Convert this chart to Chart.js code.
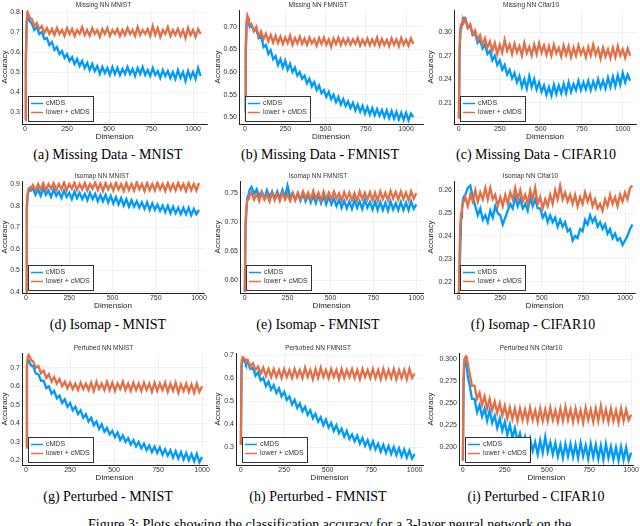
<!DOCTYPE html>
<html><head><meta charset="utf-8">
<script src="https://cdn.jsdelivr.net/npm/chart.js@4/dist/chart.umd.min.js"></script>
<style>
html,body{margin:0;padding:0;background:#fff;width:640px;height:526px;overflow:hidden;position:relative}
.pnl{position:absolute}
.cap{position:absolute;font-family:"Liberation Serif","Times New Roman",serif;font-size:14px;line-height:16px;color:#000;white-space:nowrap;transform:translateX(-50%)}
.fig{position:absolute;font-family:"Liberation Serif","Times New Roman",serif;font-size:14px;line-height:16px;color:#000;white-space:nowrap}
</style></head><body>
<script>
// ---------- data ----------
const dims1050 = [1,5,10,15,20,25,30,40,55,70,85,100,115,130,145,160,175,190,205,220,235,250,265,280,295,310,325,340,355,370,385,400,415,430,445,460,475,490,505,520,535,550,565,580,595,610,625,640,655,670,685,700,715,730,745,760,775,790,805,820,835,850,865,880,895,910,925,940,955,970,985,1000,1015,1030,1045];
const dims1000 = [1,5,10,15,20,25,30,40,55,70,85,100,115,130,145,160,175,190,205,220,235,250,265,280,295,310,325,340,355,370,385,400,415,430,445,460,475,490,505,520,535,550,565,580,595,610,625,640,655,670,685,700,715,730,745,760,775,790,805,820,835,850,865,880,895,910,925,940,955,970,985,1000];

const seriesNames = ['cMDS', 'lower + cMDS'];
const xTickLabels = ['0','250','500','750','1000'];

// (a) Missing Data - MNIST
const missMnistCmds = [0.26,0.55,0.74,0.78,0.77,0.76,0.75,
 0.745,0.71,0.725,0.69,0.70,0.665,0.67,0.635,0.65,0.61,
 0.625,0.59,0.605,0.57,0.59,0.555,0.575,0.54,0.565,0.53,
 0.555,0.52,0.545,0.51,0.54,0.505,0.53,0.49,0.525,0.495,
 0.52,0.485,0.525,0.49,0.52,0.485,0.515,0.49,0.525,0.49,
 0.515,0.48,0.52,0.49,0.525,0.485,0.51,0.48,0.52,0.485,
 0.505,0.47,0.51,0.48,0.505,0.47,0.50,0.465,0.51,0.47,
 0.50,0.455,0.505,0.47,0.50,0.465,0.52,0.48];
const missMnistLower = [0.26,0.58,0.76,0.80,0.79,0.78,0.77,
 0.765,0.73,0.745,0.715,0.73,0.695,0.72,0.69,0.715,0.685,
 0.72,0.69,0.71,0.68,0.72,0.69,0.715,0.68,0.71,0.69,
 0.725,0.685,0.71,0.68,0.72,0.69,0.71,0.675,0.715,0.69,
 0.72,0.68,0.71,0.69,0.715,0.68,0.71,0.685,0.72,0.69,
 0.71,0.68,0.725,0.685,0.71,0.69,0.715,0.68,0.73,0.685,
 0.72,0.675,0.71,0.69,0.725,0.68,0.71,0.685,0.715,0.68,
 0.71,0.67,0.72,0.685,0.71,0.675,0.715,0.69];
const yTicksA = ['0.3','0.4','0.5','0.6','0.7','0.8'];

// (b) Missing Data - FMNIST
const missFmnistCmds = [0.51,0.64,0.705,0.715,0.71,0.705,0.70,
 0.705,0.69,0.695,0.675,0.68,0.655,0.66,0.64,0.648,0.628,
 0.635,0.615,0.628,0.61,0.625,0.605,0.618,0.60,0.61,0.592,
 0.60,0.585,0.592,0.575,0.585,0.568,0.578,0.56,0.57,0.553,
 0.56,0.545,0.556,0.54,0.55,0.533,0.545,0.528,0.54,0.525,
 0.535,0.52,0.532,0.515,0.528,0.512,0.525,0.508,0.522,0.506,
 0.52,0.504,0.518,0.503,0.516,0.50,0.515,0.498,0.514,0.497,
 0.512,0.495,0.51,0.494,0.51,0.493,0.508,0.50];
const missFmnistLower = [0.51,0.65,0.71,0.725,0.72,0.71,0.705,
 0.705,0.69,0.70,0.68,0.69,0.672,0.685,0.668,0.682,0.665,
 0.68,0.664,0.678,0.662,0.676,0.664,0.68,0.66,0.675,0.663,
 0.678,0.662,0.674,0.66,0.676,0.663,0.672,0.658,0.675,0.662,
 0.676,0.66,0.672,0.656,0.674,0.662,0.676,0.66,0.673,0.661,
 0.674,0.66,0.672,0.662,0.675,0.658,0.671,0.66,0.674,0.659,
 0.672,0.66,0.676,0.658,0.673,0.66,0.671,0.657,0.674,0.66,
 0.672,0.657,0.675,0.66,0.671,0.658,0.674,0.662];
const yTicksB = ['0.50','0.55','0.60','0.65','0.70'];

// (c) Missing Data - CIFAR10
const missCifarCmds = [0.19,0.27,0.30,0.305,0.31,0.315,0.318,
 0.318,0.305,0.308,0.296,0.298,0.286,0.29,0.279,0.284,0.272,
 0.276,0.264,0.27,0.258,0.264,0.252,0.258,0.246,0.252,0.241,
 0.248,0.236,0.244,0.23,0.24,0.228,0.244,0.23,0.24,0.227,
 0.236,0.224,0.232,0.22,0.23,0.219,0.233,0.221,0.232,0.222,
 0.234,0.222,0.236,0.224,0.234,0.226,0.238,0.226,0.236,0.227,
 0.238,0.226,0.237,0.228,0.24,0.229,0.238,0.228,0.242,0.23,
 0.243,0.231,0.245,0.233,0.248,0.236,0.246,0.238];
const missCifarLower = [0.19,0.28,0.305,0.31,0.312,0.315,0.312,
 0.316,0.305,0.31,0.297,0.302,0.29,0.296,0.284,0.292,0.28,
 0.288,0.276,0.286,0.272,0.284,0.274,0.29,0.276,0.284,0.272,
 0.285,0.274,0.282,0.27,0.286,0.273,0.281,0.27,0.284,0.272,
 0.286,0.274,0.283,0.271,0.282,0.27,0.284,0.273,0.28,0.269,
 0.283,0.271,0.282,0.268,0.28,0.27,0.283,0.272,0.279,0.268,
 0.281,0.27,0.284,0.271,0.279,0.266,0.28,0.269,0.278,0.267,
 0.28,0.268,0.282,0.27,0.278,0.267,0.279,0.27];
const yTicksC = ['0.21','0.24','0.27','0.30'];

// (d) Isomap - MNIST
const isoMnistCmds = [0.40,0.78,0.85,0.87,0.875,0.87,0.87,
 0.88,0.85,0.875,0.845,0.88,0.85,0.87,0.84,0.875,0.845,
 0.865,0.835,0.87,0.84,0.86,0.83,0.865,0.835,0.86,0.83,
 0.855,0.825,0.86,0.83,0.855,0.82,0.85,0.82,0.85,0.815,
 0.845,0.81,0.84,0.805,0.835,0.80,0.83,0.795,0.825,0.795,
 0.82,0.79,0.815,0.785,0.815,0.78,0.81,0.78,0.805,0.775,
 0.80,0.77,0.80,0.765,0.795,0.765,0.79,0.76,0.79,0.76,
 0.79,0.755,0.785,0.76,0.78];
const isoMnistLower = [0.40,0.80,0.86,0.88,0.88,0.885,0.88,
 0.895,0.87,0.90,0.875,0.905,0.87,0.90,0.878,0.905,0.872,
 0.90,0.875,0.908,0.87,0.90,0.878,0.906,0.872,0.90,0.875,
 0.905,0.87,0.90,0.878,0.908,0.872,0.902,0.868,0.905,0.875,
 0.90,0.87,0.906,0.875,0.90,0.868,0.905,0.872,0.90,0.87,
 0.908,0.875,0.90,0.868,0.905,0.872,0.90,0.87,0.906,0.874,
 0.90,0.868,0.905,0.872,0.90,0.87,0.906,0.875,0.90,0.868,
 0.905,0.872,0.90,0.87,0.904];
const yTicksD = ['0.4','0.5','0.6','0.7','0.8','0.9'];

// (e) Isomap - FMNIST
const isoFmnistCmds = [0.58,0.68,0.72,0.74,0.745,0.75,0.755,
 0.76,0.748,0.756,0.744,0.752,0.74,0.754,0.742,0.752,0.74,
 0.752,0.74,0.755,0.742,0.762,0.742,0.75,0.738,0.748,0.736,
 0.748,0.735,0.746,0.733,0.745,0.732,0.746,0.732,0.744,0.73,
 0.743,0.73,0.74,0.727,0.738,0.724,0.736,0.723,0.735,0.722,
 0.737,0.724,0.735,0.722,0.738,0.724,0.734,0.721,0.735,0.72,
 0.734,0.72,0.733,0.719,0.735,0.721,0.732,0.72,0.734,0.72,
 0.733,0.72,0.735,0.722,0.73];
const isoFmnistLower = [0.58,0.70,0.72,0.735,0.74,0.745,0.745,
 0.75,0.738,0.748,0.736,0.75,0.738,0.747,0.735,0.75,0.737,
 0.748,0.736,0.75,0.738,0.747,0.736,0.749,0.737,0.75,0.738,
 0.752,0.74,0.75,0.738,0.753,0.74,0.75,0.737,0.752,0.739,
 0.75,0.738,0.752,0.74,0.749,0.736,0.751,0.739,0.75,0.737,
 0.749,0.736,0.752,0.739,0.75,0.738,0.751,0.737,0.75,0.736,
 0.752,0.739,0.75,0.737,0.753,0.74,0.751,0.738,0.752,0.739,
 0.75,0.737,0.752,0.74,0.749];
const yTicksE = ['0.60','0.65','0.70','0.75'];

// (f) Isomap - CIFAR10
const isoCifarCmds = [0.225,0.222,0.235,0.248,0.252,0.255,0.257,
 0.258,0.261,0.262,0.257,0.253,0.249,0.252,0.247,0.249,0.246,
 0.251,0.248,0.253,0.25,0.249,0.245,0.248,0.251,0.254,0.252,
 0.257,0.253,0.256,0.252,0.254,0.251,0.257,0.253,0.256,0.252,
 0.252,0.248,0.25,0.246,0.249,0.246,0.248,0.244,0.247,0.244,
 0.246,0.242,0.243,0.238,0.24,0.239,0.243,0.242,0.247,0.245,
 0.249,0.246,0.248,0.244,0.246,0.243,0.245,0.241,0.243,0.239,
 0.241,0.238,0.239,0.236,0.238,0.24,0.243,0.245];
const isoCifarLower = [0.215,0.23,0.245,0.25,0.252,0.254,0.255,
 0.257,0.253,0.258,0.255,0.26,0.255,0.259,0.256,0.261,0.256,
 0.261,0.256,0.258,0.253,0.257,0.253,0.258,0.254,0.259,0.256,
 0.261,0.256,0.26,0.255,0.258,0.254,0.26,0.256,0.261,0.254,
 0.257,0.252,0.256,0.253,0.258,0.254,0.26,0.256,0.262,0.256,
 0.259,0.255,0.258,0.254,0.258,0.253,0.257,0.254,0.259,0.255,
 0.258,0.253,0.256,0.252,0.254,0.251,0.256,0.253,0.258,0.254,
 0.257,0.253,0.258,0.255,0.259,0.256,0.261,0.262];
const yTicksF = ['0.22','0.23','0.24','0.25','0.26'];

// (g) Perturbed - MNIST
const pertMnistCmds = [0.27,0.70,0.74,0.74,0.73,0.72,0.71,
 0.71,0.67,0.665,0.63,0.63,0.59,0.60,0.56,0.575,0.535,
 0.55,0.51,0.53,0.49,0.51,0.47,0.49,0.45,0.47,0.43,
 0.45,0.41,0.43,0.39,0.41,0.37,0.395,0.355,0.375,0.34,
 0.36,0.325,0.35,0.31,0.335,0.30,0.32,0.285,0.31,0.275,
 0.30,0.265,0.29,0.255,0.28,0.245,0.275,0.24,0.27,0.23,
 0.26,0.225,0.255,0.215,0.25,0.21,0.245,0.205,0.24,0.20,
 0.235,0.195,0.235,0.19,0.22];
const pertMnistLower = [0.27,0.72,0.76,0.77,0.76,0.75,0.74,
 0.735,0.70,0.71,0.67,0.685,0.645,0.665,0.625,0.65,0.615,
 0.64,0.60,0.625,0.59,0.62,0.585,0.615,0.58,0.62,0.585,
 0.615,0.58,0.62,0.575,0.625,0.585,0.615,0.58,0.625,0.58,
 0.62,0.575,0.615,0.585,0.625,0.58,0.615,0.575,0.62,0.58,
 0.615,0.575,0.62,0.58,0.615,0.57,0.62,0.575,0.615,0.58,
 0.62,0.57,0.615,0.575,0.62,0.565,0.61,0.575,0.615,0.57,
 0.61,0.565,0.615,0.57,0.60];
const yTicksG = ['0.2','0.3','0.4','0.5','0.6','0.7'];

// (h) Perturbed - FMNIST
const pertFmnistCmds = [0.31,0.65,0.68,0.685,0.68,0.67,0.66,
 0.67,0.64,0.645,0.61,0.625,0.59,0.60,0.565,0.585,0.55,
 0.57,0.535,0.555,0.52,0.54,0.505,0.52,0.485,0.505,0.47,
 0.49,0.455,0.475,0.44,0.46,0.425,0.445,0.41,0.43,0.395,
 0.42,0.385,0.405,0.37,0.395,0.36,0.38,0.345,0.37,0.335,
 0.355,0.325,0.35,0.315,0.34,0.305,0.33,0.295,0.325,0.29,
 0.315,0.28,0.31,0.275,0.305,0.27,0.30,0.265,0.295,0.26,
 0.29,0.255,0.285,0.25,0.27];
const pertFmnistLower = [0.31,0.67,0.69,0.69,0.685,0.68,0.675,
 0.68,0.65,0.665,0.635,0.65,0.62,0.645,0.61,0.64,0.605,
 0.64,0.605,0.635,0.60,0.64,0.605,0.635,0.60,0.64,0.605,
 0.635,0.60,0.645,0.605,0.635,0.595,0.64,0.60,0.645,0.605,
 0.635,0.60,0.64,0.605,0.635,0.595,0.64,0.60,0.635,0.605,
 0.64,0.60,0.635,0.595,0.64,0.605,0.635,0.60,0.64,0.60,
 0.635,0.595,0.64,0.60,0.635,0.60,0.64,0.595,0.635,0.60,
 0.635,0.595,0.64,0.60,0.62];
const yTicksH = ['0.3','0.4','0.5','0.6','0.7'];

// (i) Perturbed - CIFAR10
const pertCifarCmds = [0.185,0.27,0.295,0.297,0.295,0.29,0.28,
 0.272,0.255,0.255,0.24,0.248,0.235,0.244,0.23,0.242,0.228,
 0.236,0.222,0.233,0.219,0.229,0.214,0.226,0.211,0.222,0.207,
 0.216,0.202,0.212,0.198,0.21,0.196,0.206,0.192,0.208,0.194,
 0.212,0.195,0.206,0.192,0.205,0.19,0.203,0.188,0.204,0.19,
 0.204,0.189,0.203,0.188,0.205,0.19,0.202,0.187,0.204,0.189,
 0.203,0.187,0.202,0.186,0.204,0.188,0.201,0.186,0.20,0.185,
 0.201,0.186,0.20,0.185,0.194];
const pertCifarLower = [0.185,0.28,0.30,0.302,0.303,0.30,0.295,
 0.285,0.27,0.27,0.255,0.262,0.248,0.258,0.244,0.255,0.242,
 0.252,0.239,0.25,0.236,0.247,0.233,0.245,0.232,0.244,0.23,
 0.244,0.231,0.243,0.23,0.245,0.231,0.242,0.229,0.244,0.23,
 0.243,0.23,0.245,0.231,0.242,0.229,0.244,0.23,0.246,0.231,
 0.243,0.229,0.244,0.23,0.242,0.228,0.245,0.231,0.243,0.229,
 0.244,0.23,0.247,0.231,0.243,0.229,0.244,0.23,0.242,0.228,
 0.244,0.23,0.243,0.231,0.237];
const yTicksI = ['0.200','0.225','0.250','0.275','0.300'];

// ---------- panel setup ----------
const BLUE = '#009AFA', ORANGE = '#E36F47';
const panels = [
 {title:'Missing NN MNIST', cap:'(a) Missing Data - MNIST', dims:dims1050, c:missMnistCmds, l:missMnistLower, yt:yTicksA, xr:[-18,1083], yr:[0.24,0.81], L:0, T:0, pl:22, pr:207, pt:10, pb:124, cx:108},
 {title:'Missing NN FMNIST', cap:'(b) Missing Data - FMNIST', dims:dims1050, c:missFmnistCmds, l:missFmnistLower, yt:yTicksB, xr:[-37,1105], yr:[0.485,0.737], L:213, T:0, pl:239, pr:423, pt:10, pb:124, cx:320},
 {title:'Missing NN Cifar10', cap:'(c) Missing Data - CIFAR10', dims:dims1050, c:missCifarCmds, l:missCifarLower, yt:yTicksC, xr:[-29,1081], yr:[0.183,0.328], L:426, T:0, pl:454, pr:636, pt:10, pb:124, cx:536},
 {title:'Isomap NN MNIST', cap:'(d) Isomap - MNIST', dims:dims1000, c:isoMnistCmds, l:isoMnistLower, yt:yTicksD, xr:[-23,1029], yr:[0.395,0.914], L:0, T:168, pl:22, pr:204, pt:181, pb:293, cx:108},
 {title:'Isomap NN FMNIST', cap:'(e) Isomap - FMNIST', dims:dims1000, c:isoFmnistCmds, l:isoFmnistLower, yt:yTicksE, xr:[-27,1039], yr:[0.578,0.77], L:213, T:168, pl:240, pr:423, pt:181, pb:293, cx:318},
 {title:'Isomap NN Cifar10', cap:'(f) Isomap - CIFAR10', dims:dims1050, c:isoCifarCmds, l:isoCifarLower, yt:yTicksF, xr:[-28,1060], yr:[0.215,0.264], L:426, T:168, pl:454, pr:635, pt:181, pb:293, cx:533},
 {title:'Pertubed NN MNIST', cap:'(g) Perturbed - MNIST', dims:dims1000, c:pertMnistCmds, l:pertMnistLower, yt:yTicksG, xr:[-23,1028], yr:[0.175,0.78], L:0, T:340, pl:22, pr:207, pt:353, pb:465, cx:108},
 {title:'Perturbed NN FMNIST', cap:'(h) Perturbed - FMNIST', dims:dims1000, c:pertFmnistCmds, l:pertFmnistLower, yt:yTicksH, xr:[-27,1048], yr:[0.222,0.709], L:213, T:340, pl:236, pr:423, pt:353, pb:465, cx:318},
 {title:'Perturbed NN Cifar10', cap:'(i) Perturbed - CIFAR10', dims:dims1000, c:pertCifarCmds, l:pertCifarLower, yt:yTicksI, xr:[-22,1016], yr:[0.18,0.307], L:426, T:340, pl:459, pr:636, pt:353, pb:465, cx:536}
];

const SANS = '"Liberation Sans", Arial, Helvetica, sans-serif';
const insideLegend = {
  id: 'insideLegend',
  afterDatasetsDraw(chart) {
    const {ctx, chartArea: a} = chart;
    const items = chart.data.datasets;
    ctx.save();
    ctx.font = '7px ' + SANS;
    const tw = Math.max(...items.map(d => ctx.measureText(d.label).width));
    const w = Math.round(3 + 12 + 3 + tw + 3), h = 25;
    const x = Math.round(a.left + 6), y = Math.round(a.bottom - 3 - h);
    ctx.fillStyle = '#fff';
    ctx.fillRect(x, y, w, h);
    ctx.strokeStyle = '#333';
    ctx.lineWidth = 1;
    ctx.strokeRect(x + 0.5, y + 0.5, w, h);
    items.forEach((d, i) => {
      const cy = y + 7.5 + i * 9;
      ctx.strokeStyle = d.borderColor;
      ctx.lineWidth = 1.5;
      ctx.beginPath(); ctx.moveTo(x + 3, cy); ctx.lineTo(x + 15, cy); ctx.stroke();
      ctx.fillStyle = '#333';
      ctx.textBaseline = 'middle';
      ctx.fillText(d.label, x + 18, cy);
    });
    ctx.restore();
  }
};

const H = 146, XH = 18, TH = 10;
panels.forEach((p, k) => {
  const W = (p.L === 426) ? 214 : 213;
  const div = document.createElement('div');
  div.className = 'pnl';
  div.style.left = p.L + 'px'; div.style.top = p.T + 'px';
  div.style.width = W + 'px'; div.style.height = H + 'px';
  const cv = document.createElement('canvas');
  cv.width = W; cv.height = H;
  cv.style.width = W + 'px'; cv.style.height = H + 'px';
  div.appendChild(cv);
  document.body.appendChild(div);

  const cap = document.createElement('div');
  cap.className = 'cap';
  cap.textContent = p.cap;
  cap.style.left = p.cx + 'px';
  cap.style.top = (p.T === 0 ? 147 : p.T === 168 ? 317 : 489) + 'px';
  document.body.appendChild(cap);

  const pts = arr => p.dims.map((d, i) => ({x: d, y: arr[i]})).filter(o => o.y !== undefined);
  const yVals = p.yt.map(Number);
  const xVals = xTickLabels.map(Number);
  const grid = {color: 'rgba(0,0,0,0.09)', lineWidth: 0.6, drawTicks: false};
  const border = {display: true, color: '#222', width: 1};

  new Chart(cv, {
    type: 'line',
    data: {
      datasets: [
        {label: seriesNames[0], data: pts(p.c), borderColor: BLUE, backgroundColor: BLUE, borderWidth: 2.3, pointRadius: 0, tension: 0, order: 1},
        {label: seriesNames[1], data: pts(p.l), borderColor: ORANGE, backgroundColor: ORANGE, borderWidth: 2.3, pointRadius: 0, tension: 0, order: 0}
      ]
    },
    options: {
      responsive: false, animation: false, devicePixelRatio: 1,
      layout: {padding: {left: 0, right: p.L + W - p.pr, top: p.pt - p.T - TH, bottom: p.T + H - XH - p.pb}},
      plugins: {
        legend: {display: false},
        tooltip: {enabled: false},
        title: {display: true, text: p.title, color: '#333', font: {family: SANS, size: 6.5, weight: 'normal', lineHeight: 1}, padding: {top: 2, bottom: 1.5}}
      },
      scales: {
        x: {
          type: 'linear', min: p.xr[0], max: p.xr[1],
          afterBuildTicks: s => { s.ticks = xVals.map(v => ({value: v})); },
          afterFit: s => { s.height = XH; },
          ticks: {autoSkip: false, maxRotation: 0, padding: 1, color: '#333', font: {family: SANS, size: 7}, callback: (v, i) => xTickLabels[i]},
          grid: grid, border: border,
          title: {display: true, text: 'Dimension', color: '#222', font: {family: SANS, size: 8}, padding: 0}
        },
        y: {
          type: 'linear', min: p.yr[0], max: p.yr[1],
          afterBuildTicks: s => { s.ticks = yVals.map(v => ({value: v})); },
          afterFit: s => { s.width = p.pl - p.L; },
          ticks: {autoSkip: false, padding: 2, color: '#333', font: {family: SANS, size: 7}, callback: (v, i) => p.yt[i]},
          grid: grid, border: border,
          title: {display: true, text: 'Accuracy', color: '#222', font: {family: SANS, size: 8}, padding: 0}
        }
      }
    },
    plugins: [insideLegend]
  });
});

const fig = document.createElement('div');
fig.className = 'fig';
fig.style.left = '88px'; fig.style.top = '517px';
fig.textContent = 'Figure 3: Plots showing the classification accuracy for a 3-layer neural network on the';
document.body.appendChild(fig);
</script>
</body></html>
